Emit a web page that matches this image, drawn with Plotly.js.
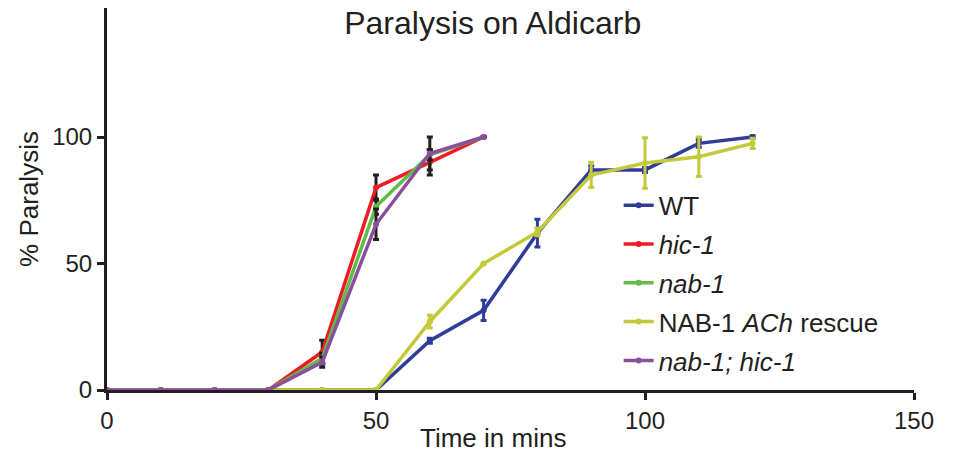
<!DOCTYPE html>
<html><head><meta charset="utf-8">
<script src="https://cdn.plot.ly/plotly-3.0.1.min.js"></script>
<style>body{margin:0;background:#fff}#c{width:953px;height:455px}</style>
</head><body><div id="c"></div>
<script>
const timeShort = [0,10,20,30,40,50,60,70];
const timeLong = [0,10,20,30,40,50,60,70,80,90,100,110,120];

const wtVals = [0,0,0,0,0,0,19.5,31.5,62,87,87,97.5,100];
const wtErrPlus = [0,0,0,0,0,0,1,4,5.5,1.5,1,1.5,0.5];
const wtErrMinus = [0,0,0,0,0,0,1,4,5.5,1.5,1,1.5,0.5];

const hicVals = [0,0,0,0,15,80,90,100];
const hicErrPlus = [0,0,0,0,4.7,5,5,0];
const hicErrMinus = [0,0,0,0,4.7,5,5,0];

const nabVals = [0,0,0,0,12.5,72.5,93,100];
const nabErrPlus = [0,0,0,0,2,3,2,0];
const nabErrMinus = [0,0,0,0,2,3,2,0];

const rescueVals = [0,0,0,0,0,0,27,50,62.5,85,89.7,92.2,97.5];
const rescueErrPlus = [0,0,0,0,0,0,2.5,0,1.5,5,10,7.8,2];
const rescueErrMinus = [0,0,0,0,0,0,2.5,0,1.5,5,10,7.8,2];

const dblVals = [0,0,0,0,11,65.5,93.5,100];
const dblErrPlus = [0,0,0,0,2,6,6.5,0];
const dblErrMinus = [0,0,0,0,2,6,6.5,0];

const names = ['WT','<i>hic-1</i>','<i>nab-1</i>','NAB-1 <i>ACh</i> rescue','<i>nab-1; hic-1</i>'];
const colors = ['#2e3d98','#ed1c24','#62bb46','#c4c93a','#8b4f9f'];

function tr(i, x, y, ep, em, errColor){
  return {
    x:x, y:y, type:'scatter', mode:'lines+markers', name:names[i],
    legendgroup:'g'+i,
    line:{color:colors[i], width:3.5},
    marker:{color:colors[i], size:6},
    cliponaxis:false,
    error_y:{type:'data', array:ep, arrayminus:em, visible:true, color:errColor, thickness:3, width:3}
  };
}
const data = [
  tr(0, timeLong, wtVals, wtErrPlus, wtErrMinus, colors[0]),
  tr(1, timeShort, hicVals, hicErrPlus, hicErrMinus, '#231f20'),
  tr(2, timeShort, nabVals, nabErrPlus, nabErrMinus, '#231f20'),
  tr(3, timeLong, rescueVals, rescueErrPlus, rescueErrMinus, colors[3]),
  tr(4, timeShort, dblVals, dblErrPlus, dblErrMinus, '#231f20')
];
const layout = {
  width:953, height:455,
  margin:{l:107, r:39, t:8, b:65},
  paper_bgcolor:'#fff', plot_bgcolor:'#fff',
  font:{family:'Liberation Sans, Arial, sans-serif', color:'#231f20', size:24},
  title:{text:'Paralysis on Aldicarb', x:0.517, xanchor:'center', y:0.95, yanchor:'middle', font:{size:32, color:'#231f20'}},
  xaxis:{range:[0,150], tickvals:[0,50,100,150], showgrid:false, zeroline:false,
    showline:true, linecolor:'#231f20', linewidth:3, ticks:'outside', ticklen:7, tickwidth:3, tickcolor:'#231f20',
    tickfont:{size:24}},
  yaxis:{range:[0,151], tickvals:[0,50,100], showgrid:false, zeroline:false,
    showline:true, linecolor:'#231f20', linewidth:3, ticks:'outside', ticklen:7, tickwidth:3, tickcolor:'#231f20',
    tickfont:{size:24}, title:{text:'% Paralysis', font:{size:26}, standoff:7}},
  annotations:[{text:'Time in mins', xref:'paper', yref:'paper', x:0.478, y:-0.125, xanchor:'center', yanchor:'middle',
    showarrow:false, font:{size:26, color:'#231f20'}}],
  showlegend:true,
  legend:{x:0.634, y:0.545, xanchor:'left', yanchor:'top', traceorder:'grouped', tracegroupgap:2,
    font:{size:26}, bgcolor:'rgba(0,0,0,0)'}
};
Plotly.newPlot('c', data, layout, {displayModeBar:false, staticPlot:true});
</script></body></html>
